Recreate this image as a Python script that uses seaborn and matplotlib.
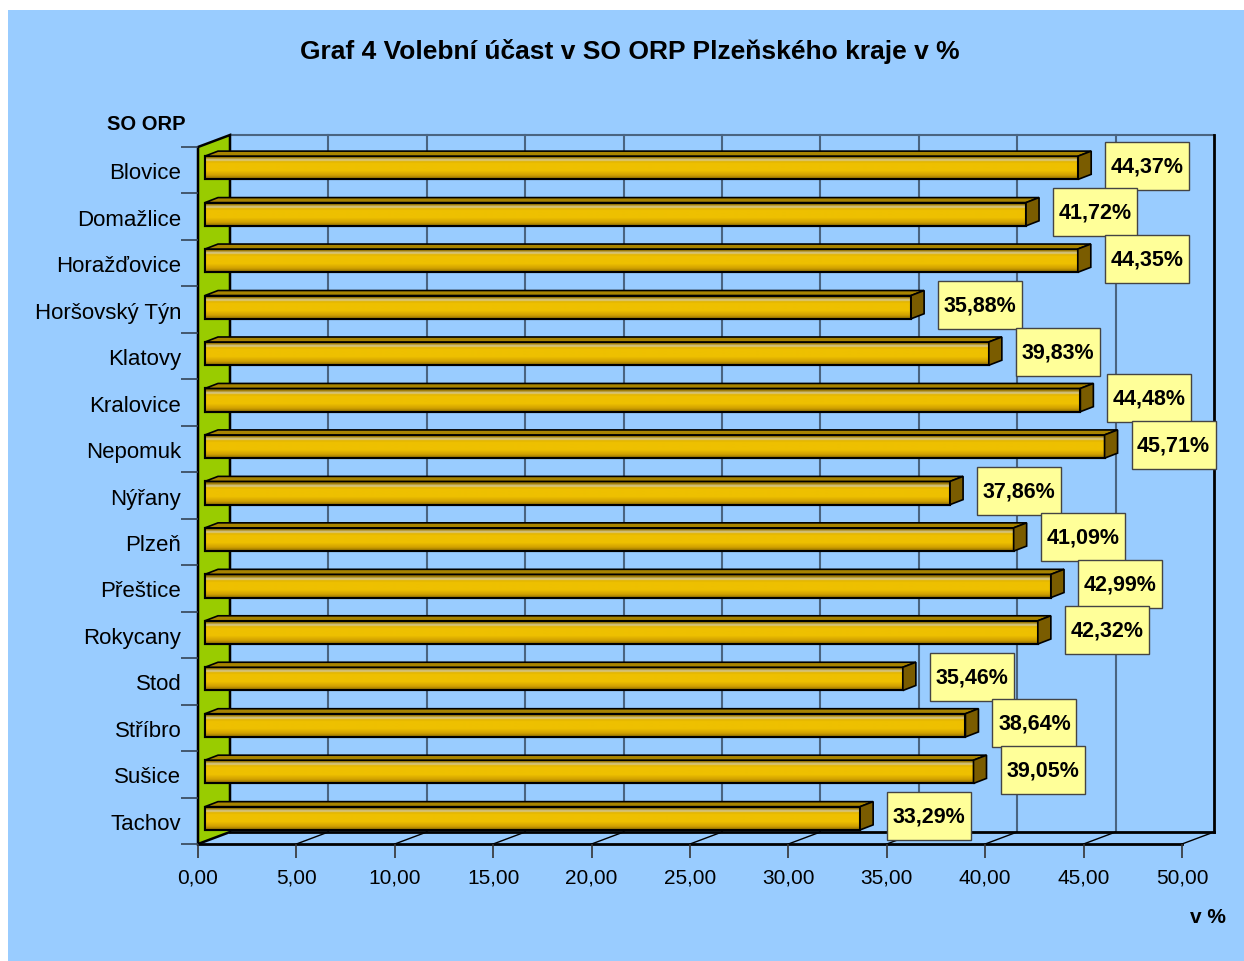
import matplotlib
matplotlib.use('Agg')
import matplotlib.pyplot as plt
from matplotlib.patches import Polygon, Rectangle
import seaborn as sns
import numpy as np

categories = ['Blovice', 'Domažlice', 'Horažďovice', 'Horšovský Týn', 'Klatovy',
              'Kralovice', 'Nepomuk', 'Nýřany', 'Plzeň', 'Přeštice', 'Rokycany',
              'Stod', 'Stříbro', 'Sušice', 'Tachov']
turnout = [44.37, 41.72, 44.35, 35.88, 39.83, 44.48, 45.71, 37.86, 41.09, 42.99,
           42.32, 35.46, 38.64, 39.05, 33.29]
x_ticks = [0, 5, 10, 15, 20, 25, 30, 35, 40, 45, 50]

title = 'Graf 4 Volební účast v SO ORP Plzeňského kraje v %'
y_title = 'SO ORP'
x_title = 'v %'

W, H = 1244, 962
BG = '#99CCFF'
plt.rcParams['font.family'] = ['Liberation Sans', 'DejaVu Sans']

fig = plt.figure(figsize=(W / 100, H / 100), dpi=100, facecolor='white')
fig.patches.append(Rectangle((8 / W, 0), 1, (H - 11) / H, transform=fig.transFigure,
                             facecolor=BG, edgecolor='none', zorder=-10))

# front plane of the 3D plot area, in pixels
ax_left, ax_right, ax_top, ax_bot = 198, 1182, 148, 845
ax = fig.add_axes([ax_left / W, (H - ax_bot) / H, (ax_right - ax_left) / W, (ax_bot - ax_top) / H])
ax.set_facecolor('none')

n = len(categories)
sx = (ax_right - ax_left) / 50.0      # px per x unit
sy = (ax_bot - ax_top) / float(n)     # px per category

# depth offsets (wall, bar start, bar depth)
dxw, dyw = 32 / sx, 12 / sy
bx, by = 7 / sx, 2.5 / sy
dxb, dyb = 13 / sx, 5 / sy

sns.barplot(x=turnout, y=categories, orient='h', width=0.5, color='#F0C000',
            saturation=1, edgecolor='black', linewidth=1.5, ax=ax, zorder=3)
ax.set_xlim(0, 50)
ax.set_ylim(n - 0.5, -0.5)

# back wall + gridlines
ylo, yhi = -0.5, n - 0.5
for t in x_ticks[1:-1]:
    ax.plot([t + dxw, t + dxw], [ylo - dyw, yhi - dyw], color='#4A6480', lw=1.5, zorder=0.5, clip_on=False)
ax.plot([dxw, 50 + dxw], [ylo - dyw, ylo - dyw], color='#4A6480', lw=1.5, zorder=0.6, clip_on=False)
ax.plot([50 + dxw, 50 + dxw], [ylo - dyw, yhi - dyw], color='black', lw=2, zorder=0.6, clip_on=False)

# floor
for t in x_ticks[1:]:
    ax.plot([t, t + dxw], [yhi, yhi - dyw], color='black', lw=1, zorder=0.7, clip_on=False)
ax.plot([dxw, 50 + dxw], [yhi - dyw, yhi - dyw], color='black', lw=2, zorder=0.7, clip_on=False)
ax.plot([0, 50], [yhi, yhi], color='black', lw=2, zorder=0.7, clip_on=False)

# left green wall
ax.add_patch(Polygon([(0, ylo), (dxw, ylo - dyw), (dxw, yhi - dyw), (0, yhi)], closed=True,
                     facecolor='#99CC00', edgecolor='black', lw=1.8, zorder=1, clip_on=False))

# front face gradient colours
stops = [0.0, 0.1, 0.2, 0.27, 0.35, 0.65, 0.85, 1.0]
cols = ['#6E5200', '#A07C00', '#D8CC98', '#E2B400', '#EEC000', '#EEC000', '#D0A000', '#8A6A00']
rgb = np.array([matplotlib.colors.to_rgb(c) for c in cols])
fr = np.linspace(0, 1, 64)
grad = np.stack([np.interp(fr, stops, rgb[:, k]) for k in range(3)], axis=-1)[:, None, :]

for p, v in zip(ax.patches[:n], turnout):
    p.set_x(p.get_x() + bx)
    p.set_y(p.get_y() - by)
    x0, y0 = p.get_x(), p.get_y()
    x1, h = x0 + p.get_width(), p.get_height()
    im = ax.imshow(grad, extent=(x0, x1, y0 + h, y0), origin='upper', aspect='auto',
                   zorder=3.05, interpolation='bilinear')
    im.set_clip_path(p)
    ax.add_patch(Rectangle((x0, y0), x1 - x0, h, facecolor='none', edgecolor='black', lw=1.5, zorder=3.1))
    ax.add_patch(Polygon([(x0, y0), (x1, y0), (x1 + dxb, y0 - dyb), (x0 + dxb, y0 - dyb)], closed=True,
                         facecolor='#A88400', edgecolor='black', lw=1.2, zorder=3.2, clip_on=False))
    ax.add_patch(Polygon([(x1, y0), (x1 + dxb, y0 - dyb), (x1 + dxb, y0 + h - dyb), (x1, y0 + h)], closed=True,
                         facecolor='#7A5C00', edgecolor='black', lw=1.2, zorder=3.2, clip_on=False))
    # value label box
    bw, bh = 84 / sx, 48 / sy
    cx = x1 + dxb + 14 / sx + bw / 2
    cy = y0 + h / 2 - 2 / sy
    ax.add_patch(Rectangle((cx - bw / 2, cy - bh / 2), bw, bh, facecolor='#FFFF99',
                           edgecolor='#444444', lw=1, zorder=5, clip_on=False))
    ax.text(cx, cy, f'{v:.2f}%'.replace('.', ','), ha='center', va='center', fontsize=15.5,
            fontweight='bold', color='black', zorder=6)

ax.set_xlim(0, 50)
ax.set_ylim(n - 0.5, -0.5)

for s in ax.spines.values():
    s.set_visible(False)

ax.set_xticks(x_ticks)
ax.set_xticklabels([f'{t:.2f}'.replace('.', ',') for t in x_ticks], fontsize=15)
ax.tick_params(axis='x', length=10, width=1.2, color='#333333', pad=7)
ax.set_yticks(range(n))
ax.set_yticklabels(categories, fontsize=16)
ax.tick_params(axis='y', which='major', length=0, pad=12)
ax.set_yticks(np.arange(n + 1) - 0.5, minor=True)
ax.tick_params(axis='y', which='minor', length=12, width=1.2, color='#334455')
ax.set_xlabel('')
ax.set_ylabel('')

fig.text(630 / W, 1 - 52 / H, title, ha='center', va='center', fontsize=19, fontweight='bold')
fig.text(146 / W, 1 - 125 / H, y_title, ha='center', va='center', fontsize=14.5, fontweight='bold')
fig.text(1208 / W, 1 - 918 / H, x_title, ha='center', va='center', fontsize=15, fontweight='bold')

fig.savefig('out.png', dpi=100, facecolor='white')
